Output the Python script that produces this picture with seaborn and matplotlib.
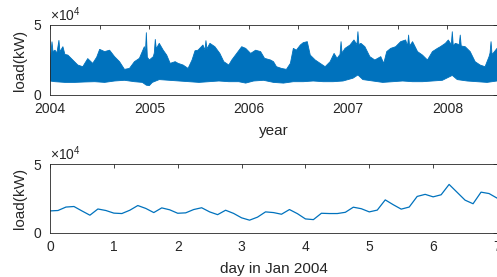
import numpy as np
import seaborn as sns
import matplotlib
matplotlib.use("Agg")
import matplotlib.pyplot as plt
from matplotlib.ticker import FixedLocator, FixedFormatter

# upper / lower envelope of hourly load (year, kW)
upper_year = [2004.00, 2004.01, 2004.02, 2004.03, 2004.05, 2004.07, 2004.09, 2004.10,
              2004.13, 2004.15, 2004.18, 2004.23, 2004.28, 2004.33, 2004.38, 2004.43,
              2004.47, 2004.50, 2004.55, 2004.60, 2004.65, 2004.70, 2004.75, 2004.80,
              2004.85, 2004.90, 2004.95, 2004.96, 2004.97, 2004.98, 2005.00, 2005.04,
              2005.05, 2005.06, 2005.07, 2005.10, 2005.14, 2005.175, 2005.21, 2005.26,
              2005.29, 2005.34, 2005.39, 2005.43, 2005.46, 2005.49, 2005.54, 2005.56,
              2005.57, 2005.58, 2005.61, 2005.66, 2005.71, 2005.75, 2005.80, 2005.83,
              2005.88, 2005.93, 2005.97, 2006.02, 2006.07, 2006.12, 2006.16, 2006.22,
              2006.25, 2006.28, 2006.33, 2006.38, 2006.42, 2006.45, 2006.48, 2006.52,
              2006.55, 2006.59, 2006.62, 2006.67, 2006.72, 2006.77, 2006.82, 2006.86,
              2006.89, 2006.92, 2006.93, 2006.94, 2006.97, 2007.02, 2007.06, 2007.09,
              2007.10, 2007.11, 2007.13, 2007.17, 2007.22, 2007.27, 2007.30, 2007.33,
              2007.36, 2007.39, 2007.43, 2007.48, 2007.53, 2007.58, 2007.60, 2007.61,
              2007.62, 2007.65, 2007.70, 2007.75, 2007.80, 2007.85, 2007.90, 2007.93,
              2007.98, 2008.01, 2008.04, 2008.05, 2008.06, 2008.08, 2008.12, 2008.13,
              2008.14, 2008.18, 2008.23, 2008.28, 2008.33, 2008.38, 2008.42, 2008.43,
              2008.44, 2008.45, 2008.46, 2008.50]
upper_load = [17900, 30000, 38000, 31000, 32000, 30000, 39000, 31000,
              34500, 29000, 28500, 25000, 21400, 20200, 26000, 22600,
              27000, 32600, 31000, 32000, 27400, 23800, 18300, 19000,
              23800, 26200, 34500, 29000, 44500, 27000, 25000, 27400,
              30000, 39700, 33000, 36900, 32000, 28500, 22600, 23800,
              22600, 21400, 19000, 25000, 31600, 32000, 35700, 32000,
              38800, 33000, 36900, 34500, 29700, 23800, 21400, 25000,
              29700, 34500, 33300, 29700, 32000, 31000, 26200, 25000,
              23800, 20200, 19000, 18300, 22600, 33300, 32000, 35700,
              37400, 38100, 28500, 25000, 22600, 20200, 23800, 29700,
              26200, 29000, 38100, 30000, 33300, 35700, 39300, 36000,
              45200, 36000, 36900, 34500, 27400, 25000, 26200, 27400,
              22600, 31000, 33300, 34500, 38100, 39300, 35000, 42800,
              35000, 38100, 31000, 28500, 25000, 31000, 33300, 34500,
              36900, 39300, 36000, 45200, 35000, 36900, 36000, 42800,
              35000, 34500, 31000, 23800, 21400, 20200, 27400, 30000,
              38100, 29000, 29700, 33300]

lower_year = [2004.00, 2004.05, 2004.15, 2004.25, 2004.35, 2004.45, 2004.55, 2004.65,
              2004.75, 2004.85, 2004.93, 2004.97, 2005.00, 2005.03, 2005.10, 2005.20,
              2005.30, 2005.40, 2005.50, 2005.60, 2005.70, 2005.80, 2005.90, 2005.97,
              2006.05, 2006.15, 2006.25, 2006.35, 2006.45, 2006.55, 2006.65, 2006.75,
              2006.85, 2006.95, 2007.05, 2007.10, 2007.15, 2007.25, 2007.35, 2007.45,
              2007.55, 2007.65, 2007.75, 2007.85, 2007.95, 2008.05, 2008.10, 2008.20,
              2008.30, 2008.40, 2008.50]
lower_load = [10000, 9500, 9000, 9000, 9300, 9500, 9000, 10000,
              10500, 9500, 9000, 7000, 6700, 9000, 11000, 10500,
              10000, 9500, 9000, 9500, 10000, 9500, 9500, 8500,
              10000, 10500, 9000, 8500, 9500, 9500, 10000, 9500,
              9500, 10000, 12000, 14300, 11000, 10000, 9000, 9500,
              10000, 9500, 9500, 10000, 10500, 14000, 11000, 10000,
              9500, 9000, 10000]

# first week of January 2004, every 3 hours (day, kW)
week_day = [0, 0.125, 0.25, 0.375, 0.5, 0.625, 0.75, 0.875,
            1, 1.125, 1.25, 1.375, 1.5, 1.625, 1.75, 1.875,
            2, 2.125, 2.25, 2.375, 2.5, 2.625, 2.75, 2.875,
            3, 3.125, 3.25, 3.375, 3.5, 3.625, 3.75, 3.875,
            4, 4.125, 4.25, 4.375, 4.5, 4.625, 4.75, 4.875,
            5, 5.125, 5.25, 5.375, 5.5, 5.625, 5.75, 5.875,
            6, 6.125, 6.25, 6.375, 6.5, 6.625, 6.75, 6.875, 7]
week_load = [16000, 16300, 18800, 19200, 16000, 12900, 17400, 16300,
             14400, 14100, 16500, 19900, 17800, 14800, 18200, 16800,
             14300, 14600, 17000, 18300, 15300, 13300, 16500, 14200,
             11000, 9300, 11500, 15300, 14800, 13600, 17000, 14000,
             10200, 9700, 14300, 14100, 14100, 15000, 18700, 17600,
             15300, 16600, 24000, 20500, 17300, 18800, 26500, 28000,
             26200, 27700, 35200, 29500, 23800, 21200, 29600, 28600, 25300]

year_ticks = [2004, 2004.5, 2005, 2005.5, 2006, 2006.5, 2007, 2007.5, 2008, 2008.5]
year_labels = ['2004', '', '2005', '', '2006', '', '2007', '', '2008', '']

sns.set_theme(style="white")
plt.rcParams['font.family'] = ['Liberation Sans', 'DejaVu Sans']
plt.rcParams['mathtext.fontset'] = 'custom'
plt.rcParams['mathtext.rm'] = 'Liberation Sans'
plt.rcParams['mathtext.it'] = 'Liberation Sans'

blue = '#0072BD'
dark = '#262626'

fig = plt.figure(figsize=(4.97, 2.77), dpi=100)
W, H = 497, 277
ax1 = fig.add_axes([50 / W, (H - 95) / H, 447 / W, 70 / H])
ax2 = fig.add_axes([50 / W, (H - 233) / H, 447 / W, 69 / H])

# top: full record as a band between envelopes
poly_x = np.concatenate([upper_year, lower_year[::-1]])
poly_y = np.concatenate([upper_load, lower_load[::-1]])
ax1.fill(poly_x, poly_y, color=blue, lw=0)
sns.lineplot(x=upper_year, y=upper_load, ax=ax1, color=blue, lw=0.6)
sns.lineplot(x=lower_year, y=lower_load, ax=ax1, color=blue, lw=0.6)
ax1.set_xlim(2004, 2008.5)
ax1.xaxis.set_major_locator(FixedLocator(year_ticks))
ax1.xaxis.set_major_formatter(FixedFormatter(year_labels))
ax1.set_xlabel('year')

# bottom: one week
sns.lineplot(x=week_day, y=week_load, ax=ax2, color=blue, lw=0.9)
ax2.set_xlim(0, 7)
ax2.set_xticks(range(8))
ax2.set_xlabel('day in Jan 2004')

for ax in (ax1, ax2):
    ax.set_ylim(0, 50000)
    ax.set_yticks([0, 50000])
    ax.ticklabel_format(axis='y', style='sci', scilimits=(4, 4), useMathText=True)
    ax.yaxis.get_offset_text().set_fontsize(10)
    ax.yaxis.get_offset_text().set_color(dark)
    ax.set_ylabel('load(kW)', fontsize=11, color=dark, labelpad=4)
    ax.xaxis.label.set_fontsize(11)
    ax.xaxis.label.set_color(dark)
    ax.tick_params(direction='in', length=3, width=0.6, top=True, right=True,
                   labelsize=10, colors=dark)
    ax.tick_params(axis='x', pad=5)
    ax.tick_params(axis='y', pad=6)
    for s in ax.spines.values():
        s.set_color(dark)
        s.set_linewidth(0.6)
    ax.xaxis.labelpad = 5.5

fig.savefig('out.png', dpi=100)
